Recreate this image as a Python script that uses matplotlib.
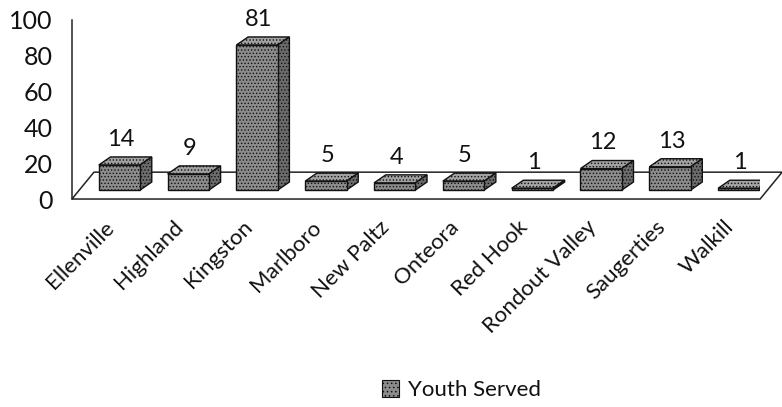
import matplotlib.pyplot as plt
from matplotlib.patches import Polygon, Patch
from matplotlib.transforms import ScaledTranslation

towns = ['Ellenville', 'Highland', 'Kingston', 'Marlboro', 'New Paltz',
         'Onteora', 'Red Hook', 'Rondout Valley', 'Saugerties', 'Walkill']
youth_served = [14, 9, 81, 5, 4, 5, 1, 12, 13, 1]
yticks = [0, 20, 40, 60, 80, 100]
series_name = 'Youth Served'

plt.rcParams['font.family'] = ['Lato', 'DejaVu Sans']
plt.rcParams['hatch.linewidth'] = 0.6

fig = plt.figure(figsize=(7.82, 4.07), dpi=100)
ax = fig.add_axes([0.092, 0.511, 0.88, 0.44])

# fake 3d: everything in data units (x = category, y = value)
floor_dx, floor_dy = 0.32, 15
bar_x0, bar_y0 = 0.19, 5      # front face offset from the front floor edge
bar_dx, bar_dy = 0.17, 4.5    # depth of each bar
w = 0.6
n = len(towns)

floor = Polygon([(-0.5, 0), (n - 0.5, 0), (n - 0.5 + floor_dx, floor_dy),
                 (-0.5 + floor_dx, floor_dy)], closed=True, fill=False,
                ec='#222222', lw=1.1, clip_on=False, zorder=1)
ax.add_patch(floor)

for i, v in enumerate(youth_served):
    x0 = i + bar_x0 - w / 2
    x1 = x0 + w
    y0 = bar_y0
    y1 = bar_y0 + v
    top = Polygon([(x0, y1), (x1, y1), (x1 + bar_dx, y1 + bar_dy), (x0 + bar_dx, y1 + bar_dy)],
                  closed=True, fc='#a2a2a2', ec='#111111', lw=1.0, hatch='.....', zorder=3)
    side = Polygon([(x1, y0), (x1 + bar_dx, y0 + bar_dy), (x1 + bar_dx, y1 + bar_dy), (x1, y1)],
                   closed=True, fc='#6c6c6c', ec='#111111', lw=1.0, hatch='.....', zorder=3)
    ax.add_patch(top)
    ax.add_patch(side)
    ax.text(i + bar_x0 + 0.02, y1 + bar_dy + 4, str(v), ha='center', va='bottom',
            fontsize=17, color='#111111', clip_on=False)

ax.bar([i + bar_x0 for i in range(n)], youth_served, bottom=bar_y0, width=w,
       color='#8c8c8c', edgecolor='#111111', linewidth=1.0, hatch='.....', zorder=4)

ax.set_xlim(-0.5, n - 0.5)
ax.set_ylim(0, 100)
ax.set_yticks(yticks)
ax.set_yticklabels([str(t) for t in yticks], fontsize=18, color='#111111')
ax.set_xticks(range(n))
ax.set_xticklabels(towns, fontsize=16, rotation=45, ha='right', va='center',
                   rotation_mode='anchor', color='#111111')
ax.tick_params(axis='both', length=0)
ax.tick_params(axis='y', pad=14)
ax.tick_params(axis='x', pad=18)
shift = ScaledTranslation(5 / 100, 0, fig.dpi_scale_trans)
for lab in ax.get_xticklabels():
    lab.set_transform(lab.get_transform() + shift)

for s in ['top', 'right', 'bottom']:
    ax.spines[s].set_visible(False)
ax.spines['left'].set_color('#222222')
ax.spines['left'].set_linewidth(1.1)

handle = Patch(facecolor='#8c8c8c', edgecolor='#111111', hatch='....', linewidth=0.8)
fig.legend([handle], [series_name], loc='center', bbox_to_anchor=(0.59, 0.042),
           frameon=False, fontsize=16, handlelength=0.8, handleheight=0.8,
           handletextpad=0.4, labelcolor='#111111')

fig.savefig('out.png', dpi=100, facecolor='white')
